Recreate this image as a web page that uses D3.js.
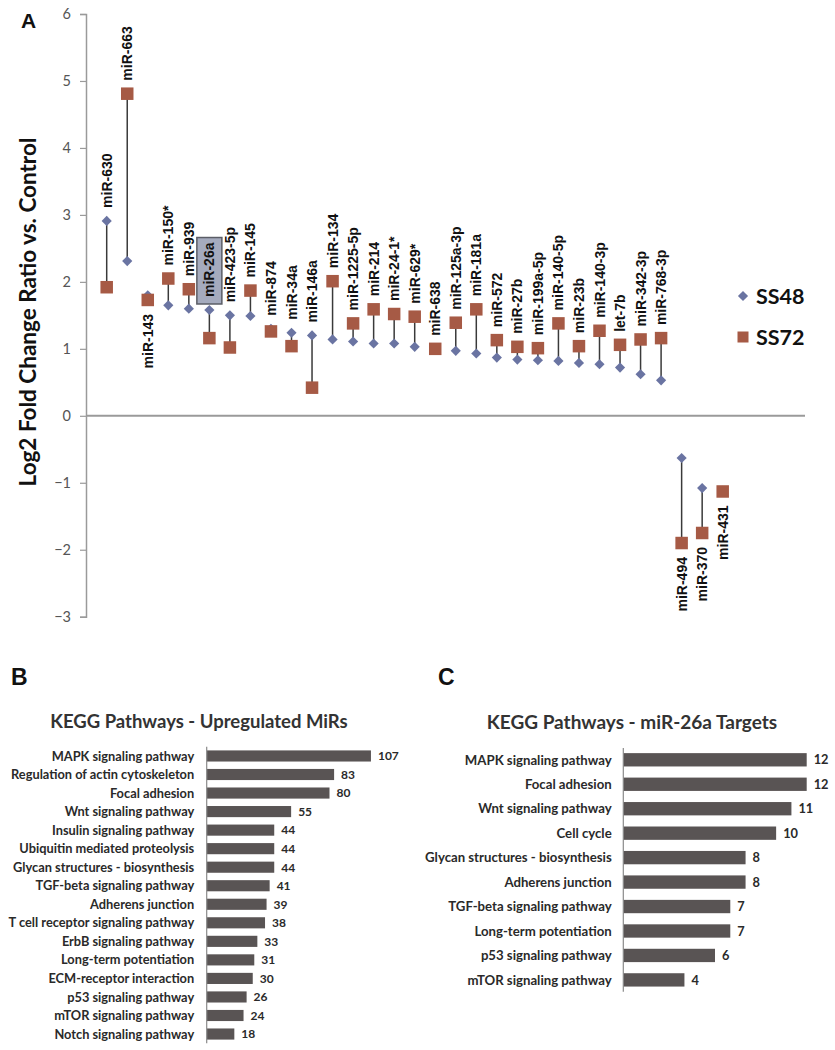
<!DOCTYPE html>
<html>
<head>
<meta charset="utf-8">
<script src="https://cdn.jsdelivr.net/npm/d3@7/dist/d3.min.js"></script>
<style>
  html, body { margin: 0; padding: 0; background: #ffffff; }
  svg { display: block; }
</style>
</head>
<body>
<svg id="chart" width="835" height="1050"></svg>
<script>
// ---------- Panel A data ----------
const mirs = ["miR-630","miR-663","miR-143","miR-150*","miR-939","miR-26a","miR-423-5p","miR-145","miR-874","miR-34a","miR-146a","miR-134","miR-1225-5p","miR-214","miR-24-1*","miR-629*","miR-638","miR-125a-3p","miR-181a","miR-572","miR-27b","miR-199a-5p","miR-140-5p","miR-23b","miR-140-3p","let-7b","miR-342-3p","miR-768-3p","miR-494","miR-370","miR-431"];
const ss48 = [2.91,2.31,1.80,1.65,1.60,1.58,1.50,1.49,1.30,1.24,1.20,1.14,1.11,1.08,1.08,1.03,1.00,0.97,0.93,0.87,0.84,0.83,0.82,0.79,0.77,0.72,0.62,0.53,-0.63,-1.08,-1.12];
const ss72 = [1.92,4.81,1.73,2.05,1.89,1.16,1.02,1.87,1.26,1.04,0.42,2.01,1.38,1.59,1.52,1.48,1.00,1.39,1.59,1.13,1.03,1.01,1.38,1.04,1.27,1.06,1.14,1.16,-1.90,-1.75,-1.13];
const labelBelowExtra = ["miR-143"];
const highlighted = "miR-26a";
const yTicksA = [-3,-2,-1,0,1,2,3,4,5,6];
const seriesNames = ["SS48","SS72"];

// ---------- Panel B data ----------
const pathwaysB = ["MAPK signaling pathway","Regulation of actin cytoskeleton","Focal adhesion","Wnt signaling pathway","Insulin signaling pathway","Ubiquitin mediated proteolysis","Glycan structures - biosynthesis","TGF-beta signaling pathway","Adherens junction","T cell receptor signaling pathway","ErbB signaling pathway","Long-term potentiation","ECM-receptor interaction","p53 signaling pathway","mTOR signaling pathway","Notch signaling pathway"];
const countsB = [107,83,80,55,44,44,44,41,39,38,33,31,30,26,24,18];

// ---------- Panel C data ----------
const pathwaysC = ["MAPK signaling pathway","Focal adhesion","Wnt signaling pathway","Cell cycle","Glycan structures - biosynthesis","Adherens junction","TGF-beta signaling pathway","Long-term potentiation","p53 signaling pathway","mTOR signaling pathway"];
const countsC = [12,12,11,10,8,8,7,7,6,4];

const svg = d3.select("#chart");
const calibri = "Lato, 'Open Sans', sans-serif";
const arial = "'Liberation Sans', Arial, sans-serif";
const colBlue = "#6a74a2";
const colRed = "#a65a45";

// ================= Panel A =================
const y = d3.scaleLinear().domain([-3, 6]).range([616.7, 14]);
const x = d3.scalePoint().domain(mirs).range([106.7, 722.7]);
const axisX0 = 86, axisX1 = 805;

const gA = svg.append("g");

// y axis
const yAxis = d3.axisLeft(y).tickValues(yTicksA).tickSize(6).tickPadding(9).tickFormat(d3.format("d"));
const gy = gA.append("g").attr("transform", `translate(${axisX0},0)`).call(yAxis);
gy.select(".domain").attr("stroke", "#9a9a9a").attr("stroke-width", 1.5);
gy.selectAll(".tick line").attr("stroke", "#9a9a9a").attr("stroke-width", 1.2);
gy.selectAll(".tick text").attr("font-family", calibri).attr("font-size", 14.5).attr("fill", "#555");

// zero line
gA.append("line")
  .attr("x1", axisX0).attr("x2", axisX1)
  .attr("y1", y(0)).attr("y2", y(0))
  .attr("stroke", "#9a9a9a").attr("stroke-width", 2);

// axis title
gA.append("text")
  .attr("transform", `translate(36,${312}) rotate(-90)`)
  .attr("text-anchor", "middle")
  .attr("font-family", calibri).attr("font-weight", "bold").attr("font-size", 22.5)
  .attr("fill", "#111")
  .text("Log2 Fold Change Ratio vs. Control");

// panel letter
svg.append("text").attr("x", 21).attr("y", 28)
  .attr("font-family", arial).attr("font-weight", "bold").attr("font-size", 21)
  .attr("fill", "#111").text("A");

const dataA = mirs.map((m, i) => ({ name: m, a: ss48[i], b: ss72[i] }));

// connectors
gA.append("g").selectAll("line").data(dataA).join("line")
  .attr("x1", d => x(d.name)).attr("x2", d => x(d.name))
  .attr("y1", d => y(d.a)).attr("y2", d => y(d.b))
  .attr("stroke", "#3a3a3a").attr("stroke-width", 1.5);

// diamonds (SS48)
const dS = 7.2;
gA.append("g").selectAll("rect").data(dataA).join("rect")
  .attr("x", -dS / 2).attr("y", -dS / 2).attr("width", dS).attr("height", dS)
  .attr("transform", d => `translate(${x(d.name)},${y(d.a)}) rotate(45)`)
  .attr("fill", colBlue);

// squares (SS72)
const sS = 12.5;
gA.append("g").selectAll("rect").data(dataA).join("rect")
  .attr("x", d => x(d.name) - sS / 2).attr("y", d => y(d.b) - sS / 2)
  .attr("width", sS).attr("height", sS)
  .attr("fill", colRed);

// labels
const gLab = gA.append("g");
dataA.forEach(d => {
  const below = d.a < 0 || labelBelowExtra.includes(d.name);
  const top = Math.max(d.a, d.b), bot = Math.min(d.a, d.b);
  const yy = below ? y(bot) + 14 : y(top) - 13;
  const t = gLab.append("text")
    .attr("transform", `translate(${x(d.name)},${yy}) rotate(-90)`)
    .attr("text-anchor", below ? "end" : "start")
    .attr("dy", "0.36em")
    .attr("font-family", arial).attr("font-weight", "bold").attr("font-size", 14)
    .attr("fill", "#111")
    .text(d.name);
  if (d.name === highlighted) {
    const len = t.node().getComputedTextLength();
    gLab.insert("rect", () => t.node())
      .attr("x", x(d.name) - 12.5).attr("y", yy - len - 5)
      .attr("width", 25).attr("height", len + 12)
      .attr("fill", "#a5abbe").attr("stroke", "#5b5d66").attr("stroke-width", 1.5);
  }
});

// legend
const legY = [296, 337];
const gLeg = gA.append("g");
gLeg.append("rect").attr("x", -dS / 2).attr("y", -dS / 2).attr("width", dS).attr("height", dS)
  .attr("transform", `translate(743,${legY[0]}) rotate(45)`).attr("fill", colBlue);
gLeg.append("rect").attr("x", 743 - 5.5).attr("y", legY[1] - 5.5).attr("width", 11).attr("height", 11)
  .attr("fill", colRed);
seriesNames.forEach((s, i) => {
  gLeg.append("text").attr("x", 756).attr("y", legY[i]).attr("dy", "0.36em")
    .attr("font-family", calibri).attr("font-weight", "bold").attr("font-size", 21.5)
    .attr("fill", "#111").text(s);
});

// ================= Bar panels =================
function barPanel(opts) {
  const g = svg.append("g");
  const xs = d3.scaleLinear().domain([0, opts.xMax]).range([opts.x0, opts.x1]);
  const ys = d3.scaleBand().domain(opts.cats).range([opts.y0, opts.y1])
    .paddingInner(opts.pIn).paddingOuter(opts.pOut);
  g.append("text").attr("x", opts.letterX).attr("y", opts.letterY)
    .attr("font-family", arial).attr("font-weight", "bold").attr("font-size", 23)
    .attr("fill", "#111").text(opts.letter);
  g.append("text").attr("x", opts.titleX).attr("y", opts.titleY).attr("dy", "0.36em")
    .attr("text-anchor", "middle")
    .attr("font-family", calibri).attr("font-weight", "bold").attr("font-size", opts.titleSize)
    .attr("fill", "#333").text(opts.title);
  const rows = opts.cats.map((c, i) => ({ c, v: opts.vals[i] }));
  g.append("g").selectAll("rect").data(rows).join("rect")
    .attr("x", xs(0)).attr("y", d => ys(d.c))
    .attr("width", d => xs(d.v) - xs(0)).attr("height", ys.bandwidth())
    .attr("fill", "#595454");
  g.append("line").attr("x1", xs(0)).attr("x2", xs(0))
    .attr("y1", opts.y0).attr("y2", opts.y1)
    .attr("stroke", "#8a8a8a").attr("stroke-width", 1.2);
  g.append("g").selectAll("text").data(rows).join("text")
    .attr("x", xs(0) - opts.labGap).attr("y", d => ys(d.c) + ys.bandwidth() / 2).attr("dy", "0.36em")
    .attr("text-anchor", "end")
    .attr("font-family", calibri).attr("font-weight", "bold").attr("font-size", opts.labSize)
    .attr("fill", "#2a2a2a").text(d => d.c);
  g.append("g").selectAll("text").data(rows).join("text")
    .attr("x", d => xs(d.v) + opts.valGap).attr("y", d => ys(d.c) + ys.bandwidth() / 2).attr("dy", "0.36em")
    .attr("font-family", calibri).attr("font-weight", "bold").attr("font-size", opts.valSize)
    .attr("fill", "#2a2a2a").text(d => d.v);
}

barPanel({
  cats: pathwaysB, vals: countsB, xMax: 120, x0: 206.7, x1: 206.7 + 120 * 1.535,
  y0: 746.7, y1: 1043.3, pIn: 0.4, pOut: 0.2,
  letter: "B", letterX: 11, letterY: 685,
  title: "KEGG Pathways - Upregulated MiRs", titleX: 199, titleY: 721, titleSize: 18.5,
  labGap: 12.5, labSize: 12.8, valGap: 7, valSize: 12
});

barPanel({
  cats: pathwaysC, vals: countsC, xMax: 12, x0: 623.3, x1: 806.7,
  y0: 748, y1: 991.7, pIn: 0.455, pOut: 0.21,
  letter: "C", letterX: 438, letterY: 685,
  title: "KEGG Pathways - miR-26a Targets", titleX: 632, titleY: 722, titleSize: 19,
  labGap: 11.6, labSize: 13.2, valGap: 7, valSize: 12.8
});
</script>
</body>
</html>
